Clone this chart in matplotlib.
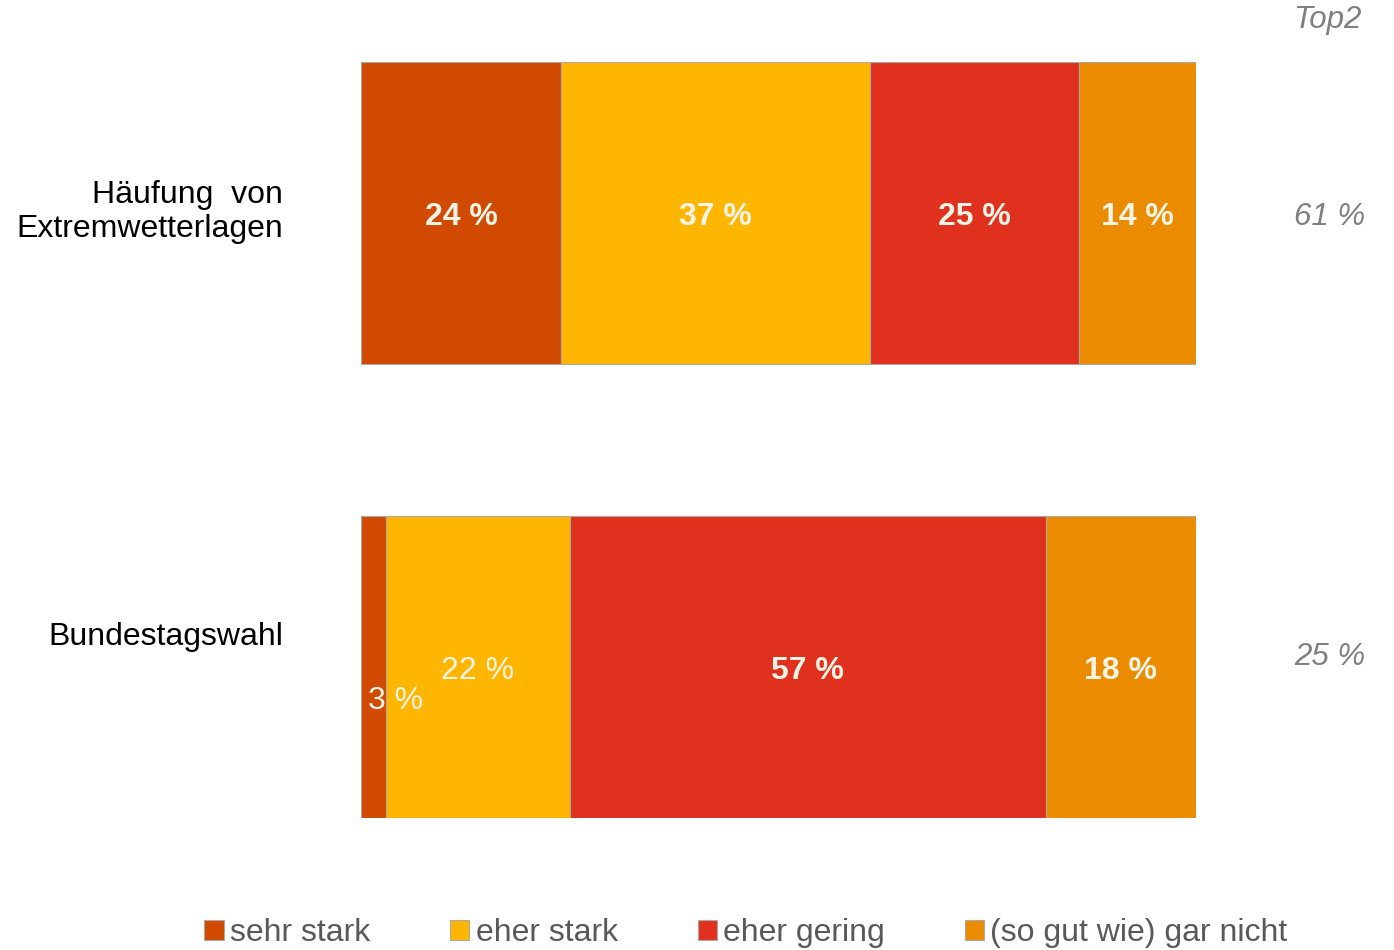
import matplotlib
matplotlib.use("Agg")
import matplotlib.pyplot as plt
import numpy as np

plt.rcParams["font.family"] = ["Liberation Sans", "DejaVu Sans"]

categories = ["Häufung  von\nExtremwetterlagen", "Bundestagswahl"]
series = ["sehr stark", "eher stark", "eher gering", "(so gut wie) gar nicht"]
values = np.array([
    [24, 37, 25, 14],
    [3, 22, 57, 18],
])
top2 = ["61 %", "25 %"]
colors = ["#D04A02", "#FFB600", "#E0301E", "#EB8C00"]

W, H = 1394, 950
fig = plt.figure(figsize=(W / 100, H / 100), dpi=100)
ax = fig.add_axes([361 / W, 1 - 818 / H, (1196 - 361) / W, (818 - 62) / H])

h = 302 / 454
y = np.arange(len(categories))
left = np.zeros(len(categories))
handles = []
for j, (name, col) in enumerate(zip(series, colors)):
    bars = ax.barh(y, values[:, j], left=left, height=h, color=col,
                   edgecolor="#B0A8A0", linewidth=0.8, label=name)
    handles.append(bars)
    for i in range(len(categories)):
        v = values[i, j]
        cx = left[i] + v / 2
        if v < 5:
            # small segment: label spills to the right and sits lower
            ax.text(left[i] + 0.85, y[i] + 0.075, f"{v} %", ha="left", va="center",
                    color="#FFF3E6", fontsize=23)
        else:
            ax.text(cx, y[i] + 0.008, f"{v} %", ha="center", va="center", color="#FFF3E6",
                    fontsize=23, fontweight="bold" if not (i == 1 and j == 1) else "normal")
    left += values[:, j]

ax.set_xlim(0, 100)
ax.set_ylim(len(categories) - 1 + h / 2, -h / 2)
ax.axis("off")

# category labels
fig.text(283 / W, 1 - 212 / H, categories[0], ha="right", va="center", fontsize=23,
         linespacing=1.18, color="black")
fig.text(283 / W, 1 - 637 / H, categories[1], ha="right", va="center", fontsize=23,
         color="black")

# Top2 column
fig.text(1327 / W, 1 - 20 / H, "Top2", ha="center", va="center", fontsize=22.5,
         style="italic", color="#808080")
for yy, t in zip([217, 657], top2):
    fig.text(1330 / W, 1 - yy / H, t, ha="center", va="center", fontsize=22.5,
             style="italic", color="#808080")

leg = fig.legend(handles=handles, labels=series, loc="center", ncol=4,
                 bbox_to_anchor=(746 / W, 1 - 933 / H), frameon=False, fontsize=23,
                 handlelength=0.6, handleheight=0.6, handletextpad=0.2,
                 columnspacing=2.5, labelcolor="#595959")

fig.savefig("out.png", dpi=100)
